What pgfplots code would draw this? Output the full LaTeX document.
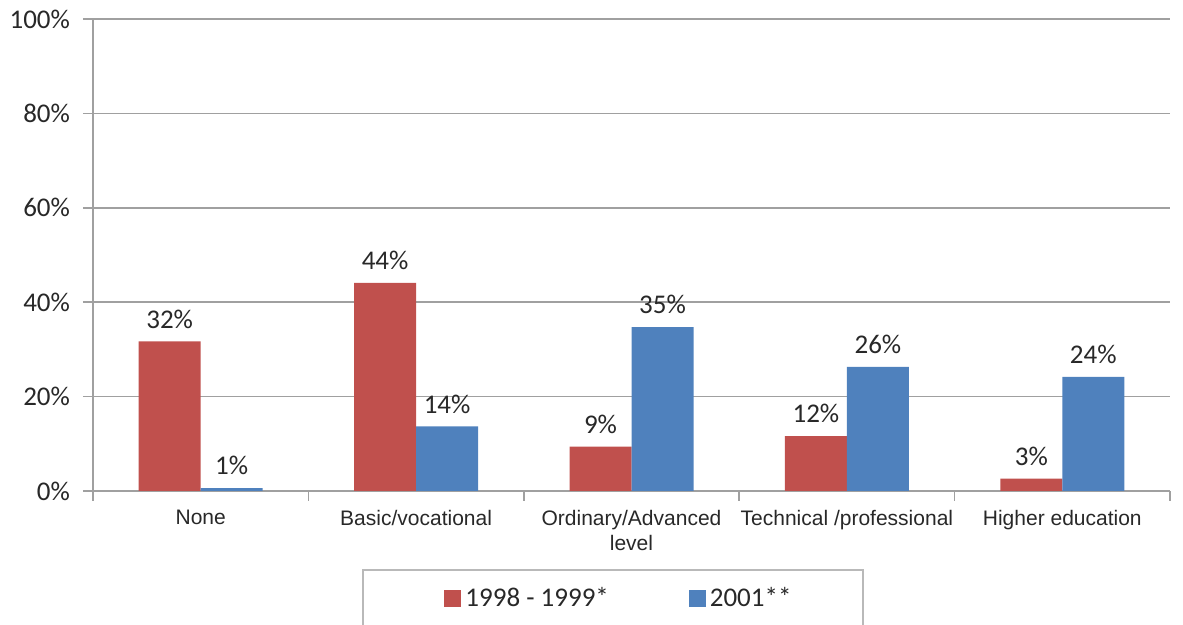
\documentclass[border=0pt]{standalone}
\usepackage{pgfplots}
\pgfplotsset{compat=1.18}
\usepackage{fontspec}
\setmainfont{Carlito}
\newfontfamily\arial{Liberation Sans}
\definecolor{redbar}{RGB}{192,80,77}
\definecolor{bluebar}{RGB}{79,129,189}
\definecolor{gridgray}{RGB}{160,160,160}
\definecolor{boxgray}{RGB}{185,185,185}
\definecolor{txt}{RGB}{40,40,40}

\begin{document}
\begin{tikzpicture}
\begin{axis}[
    name=ax,
    scale only axis,
    width=538.5pt, height=236pt,
    ybar=0pt, bar width=31pt,
    xmin=-0.5, xmax=4.5,
    ymin=0, ymax=100,
    axis x line=bottom, axis y line=left,
    axis line style={-, gridgray, line width=0.8pt},
    ytick={0,20,...,100},
    yticklabel={\pgfmathprintnumber{\tick}\%},
    ymajorgrids, grid style={gridgray, line width=0.8pt},
    major tick length=5pt, tick align=outside,
    tick style={gridgray, line width=0.8pt},
    xtick={-0.5,0.5,1.5,2.5,3.5,4.5}, xticklabels={},
    extra x ticks={0,1,2,3,4},
    extra x tick labels={None, Basic/vocational, {Ordinary/Advanced\\level}, Technical /professional, Higher education},
    extra x tick style={tick style={draw=none}, grid=none,
      xticklabel style={font=\arial\fontsize{10.5}{12.5}\selectfont, align=center, text=txt, yshift=-1pt}},
    yticklabel style={font=\fontsize{13.5}{15}\selectfont, text=txt, xshift=-3pt},
    /pgf/number format/assume math mode=true,
    nodes near coords={\pgfmathprintnumber[fixed,precision=0]{\pgfplotspointmeta}\%},
    nodes near coords style={font=\fontsize{13.5}{15}\selectfont, text=txt, yshift=3pt},
    legend columns=2,
    legend style={at={(0.4893,-0.2267)}, anchor=center, draw=none, fill=none,
      font=\fontsize{13.5}{15}\selectfont, text=txt,
      /tikz/every even column/.append style={column sep=38pt}},
    legend image code/.code={\fill[#1] (0pt,-4.25pt) rectangle (8.5pt,4.25pt);},
    clip=false,
]
\addplot[fill=redbar, draw=none] coordinates {(0,31.7) (1,44.1) (2,9.4) (3,11.6) (4,2.6)};
\addplot[fill=bluebar, draw=none] coordinates {(0,0.6) (1,13.7) (2,34.7) (3,26.3) (4,24.2)};
\legend{1998 - 1999*, 2001**}
\draw[boxgray, line width=0.8pt] (rel axis cs:0.2507,-0.1674) rectangle (rel axis cs:0.7149,-0.4);
\end{axis}
\pgfresetboundingbox
\path[use as bounding box] ([shift={(-46.5pt,-67pt)}]ax.south west) rectangle ([shift={(6.5pt,9.5pt)}]ax.north east);
\end{tikzpicture}
\end{document}
